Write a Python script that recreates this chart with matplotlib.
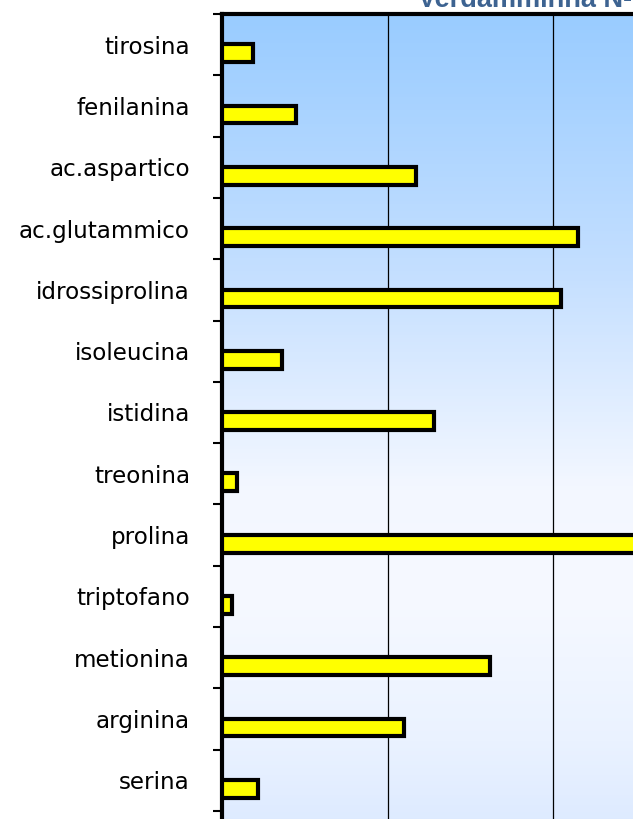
import numpy as np
import matplotlib.pyplot as plt
from matplotlib.colors import LinearSegmentedColormap

# amino acids, top to bottom
amminoacidi = ['tirosina', 'fenilanina', 'ac.aspartico', 'ac.glutammico',
               'idrossiprolina', 'isoleucina', 'istidina', 'treonina',
               'prolina', 'triptofano', 'metionina', 'arginina', 'serina']
valori = [0.19, 0.45, 1.17, 2.15, 2.05, 0.36, 1.28, 0.09,
          2.80, 0.06, 1.62, 1.10, 0.22]
titolo = 'Verdamminna N-'

plt.rcParams['font.family'] = ['DejaVu Sans']

fig = plt.figure(figsize=(6.33, 8.19), dpi=100)
W, H = 633, 819
# axes runs past the right and bottom edges (the chart is cropped)
left, top = 222, 14
width, height = 496.5, 61.3 * 14
ax = fig.add_axes([left / W, 1 - (top + height) / H, width / W, height / H])

n = len(amminoacidi)
y = np.arange(n)
ax.set_xlim(0, 3)
ax.set_ylim(n + 0.5, -0.5)

# background gradient blue -> white -> light blue
cmap = LinearSegmentedColormap.from_list(
    'bg', [(0.0, '#99CCFF'), (0.30, '#C4DFFF'), (0.55, '#F3F7FF'),
           (0.68, '#F6F9FF'), (0.85, '#EAF2FF'), (1.0, '#D6E6FF')])
grad = np.linspace(0, 1, 256).reshape(-1, 1)
ax.imshow(grad, cmap=cmap, aspect='auto', extent=[0, 3, n + 0.5, -0.5],
          zorder=0)

for xg in [1, 2]:
    ax.axvline(xg, color='black', lw=0.9, zorder=1)

ax.barh(y + 0.14, valori, height=0.29, color='#FFFF00', edgecolor='black',
        linewidth=3, zorder=3)

ax.set_yticks(y)
ax.set_yticklabels(amminoacidi, fontsize=16.6)
ax.tick_params(axis='y', which='major', length=0, pad=23)
ax.set_yticks(np.arange(-0.5, n + 0.5, 1), minor=True)
ax.tick_params(axis='y', which='minor', length=6.5, width=1.5, color='black')
ax.set_xticks([])

for s in ['right', 'bottom']:
    ax.spines[s].set_visible(False)
ax.spines['left'].set_linewidth(3)
ax.spines['top'].set_linewidth(3)

fig.text(418 / W, 1 - 7 / H, titolo, fontsize=19.5, fontweight='bold',
         color='#3D6391', ha='left', va='baseline',
         family=['Liberation Sans', 'DejaVu Sans'])

fig.savefig('out.png', dpi=100)
